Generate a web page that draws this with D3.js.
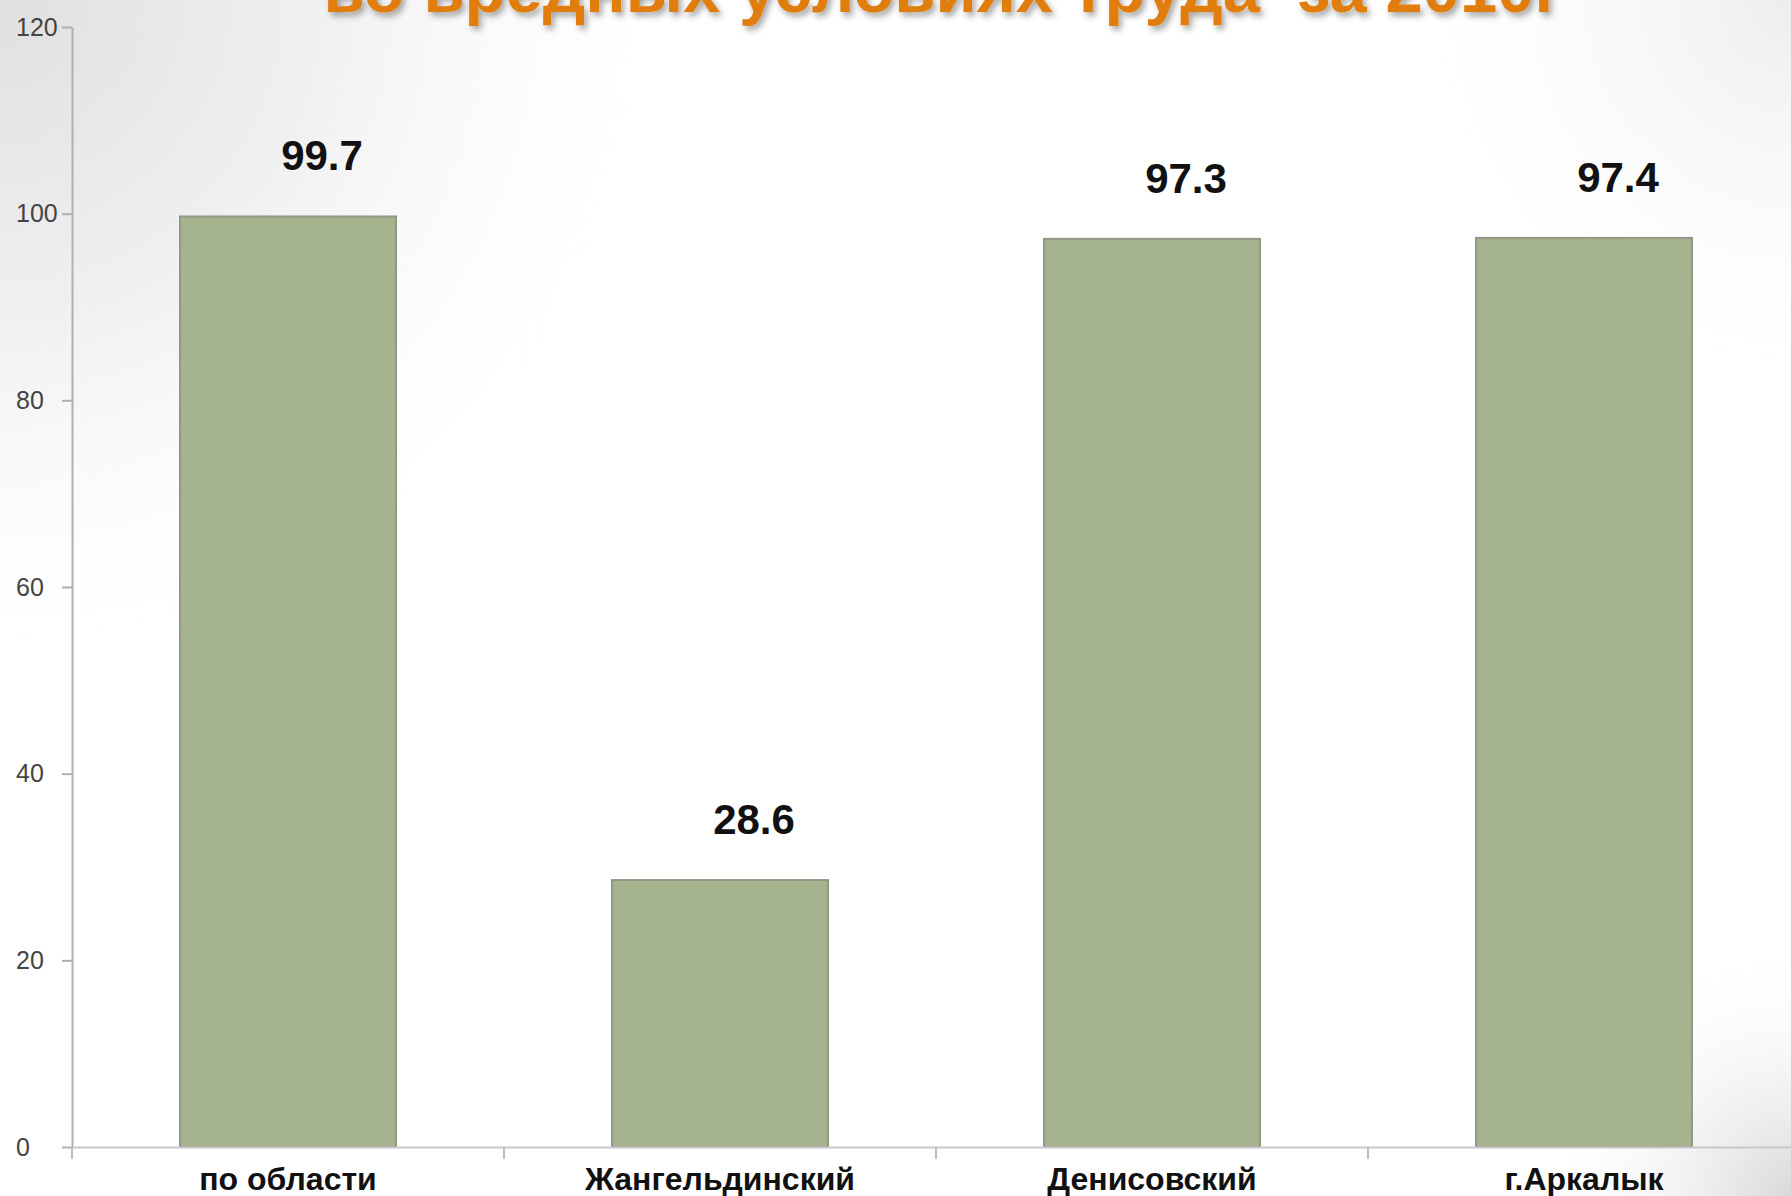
<html><head><meta charset="utf-8">
    <style>
        body {
            margin: 0;
            font-family: "Liberation Sans", Arial, Helvetica, sans-serif;
            background: white;
        }
        svg {
            display: block;
        }
    </style>
</head>

<script src="https://d3js.org/d3.v7.min.js"></script>

<body>
    <svg id="chart"></svg>
</body>

<script>
    // chart data
    let categories = ["по области", "Жангельдинский", "Денисовский", "г.Аркалык"]
    let values = [99.7, 28.6, 97.3, 97.4]
    let yTicks = [0, 20, 40, 60, 80, 100, 120]
    let titleText = "во вредных условиях труда  за 2010г"

    let width = 1791
    let height = 1196
    let margin = { top: 27, left: 72, bottom: 49 }
    let plotRight = 1800 // the last band runs slightly past the edge

    let svg = d3.select('#chart')
        .attr('width', width)
        .attr('height', height)

    let defs = svg.append('defs')

    // slide background: grey corners fading to white
    let g1 = defs.append('radialGradient').attr('id', 'bgTL')
        .attr('gradientUnits', 'userSpaceOnUse')
        .attr('cx', 0).attr('cy', 0).attr('r', 700)
    g1.append('stop').attr('offset', 0).attr('stop-color', '#e0e0e0')
    g1.append('stop').attr('offset', 0.45).attr('stop-color', '#f0f0f0')
    g1.append('stop').attr('offset', 1).attr('stop-color', '#ffffff').attr('stop-opacity', 0)

    let g2 = defs.append('radialGradient').attr('id', 'bgBR')
        .attr('gradientUnits', 'userSpaceOnUse')
        .attr('cx', width).attr('cy', height).attr('r', 260)
    g2.append('stop').attr('offset', 0).attr('stop-color', '#d9d9d9')
    g2.append('stop').attr('offset', 1).attr('stop-color', '#ffffff').attr('stop-opacity', 0)

    let g3 = defs.append('radialGradient').attr('id', 'bgTR')
        .attr('gradientUnits', 'userSpaceOnUse')
        .attr('cx', width).attr('cy', 0).attr('r', 420)
    g3.append('stop').attr('offset', 0).attr('stop-color', '#ededed')
    g3.append('stop').attr('offset', 1).attr('stop-color', '#ffffff').attr('stop-opacity', 0)

    let shadow = defs.append('filter').attr('id', 'titleShadow')
        .attr('x', '-5%').attr('y', '-50%').attr('width', '110%').attr('height', '200%')
    shadow.append('feDropShadow')
        .attr('dx', 3).attr('dy', 4).attr('stdDeviation', 3)
        .attr('flood-color', '#000').attr('flood-opacity', 0.35)

    svg.append('rect').attr('width', width).attr('height', height).attr('fill', '#fff')
    svg.append('rect').attr('width', width).attr('height', height).attr('fill', 'url(#bgTL)')
    svg.append('rect').attr('width', width).attr('height', height).attr('fill', 'url(#bgTR)')
    svg.append('rect').attr('width', width).attr('height', height).attr('fill', 'url(#bgBR)')

    // title (only its lower line shows, cut at the top edge as in the slide)
    svg.append('text')
        .attr('x', 943)
        .attr('y', 12)
        .attr('text-anchor', 'middle')
        .attr('xml:space', 'preserve')
        .style('white-space', 'pre')
        .attr('font-size', 67)
        .attr('font-weight', 'bold')
        .attr('fill', '#e07d10')
        .attr('filter', 'url(#titleShadow)')
        .text(titleText)

    let xScale = d3.scaleBand()
        .domain(categories)
        .range([margin.left, plotRight])
        .padding(0)

    let yScale = d3.scaleLinear()
        .domain([0, 120])
        .range([height - margin.bottom, margin.top])

    let barWidth = xScale.bandwidth() * 0.5

    // y axis
    let axisY = d3.axisLeft(yScale)
        .tickValues(yTicks)
        .tickSize(10)
        .tickSizeOuter(0)
    let gy = svg.append('g')
        .attr('transform', `translate(${margin.left},0)`)
        .call(axisY)
    gy.select('.domain').attr('stroke', '#b0b0b0').attr('stroke-width', 2)
    gy.selectAll('.tick line').attr('stroke', '#b0b0b0').attr('stroke-width', 2)
    gy.selectAll('.tick text')
        .attr('x', -56)
        .attr('text-anchor', 'start')
        .attr('font-size', 25)
        .attr('font-family', '"Liberation Sans", Arial, sans-serif')
        .attr('fill', '#444')

    // bars
    svg.selectAll('.bar')
        .data(values)
        .enter().append('rect')
        .attr('class', 'bar')
        .attr('x', (d, i) => xScale(categories[i]) + (xScale.bandwidth() - barWidth) / 2)
        .attr('y', d => yScale(d))
        .attr('width', barWidth)
        .attr('height', d => yScale(0) - yScale(d))
        .attr('fill', '#a5b48f')
        .attr('stroke', '#8f9985')
        .attr('stroke-width', 2)

    // x axis
    let axisX = d3.axisBottom(xScale)
        .tickSize(0)
        .tickSizeOuter(0)
    let gx = svg.append('g')
        .attr('transform', `translate(0,${yScale(0)})`)
        .call(axisX)
    gx.select('.domain').attr('stroke', '#c8c8c8').attr('stroke-width', 2)
    gx.selectAll('.tick text')
        .attr('y', 43)
        .attr('dy', 0)
        .attr('font-size', 32)
        .attr('font-weight', 'bold')
        .attr('font-family', '"Liberation Sans", Arial, sans-serif')
        .attr('fill', '#111')

    // separators between categories
    gx.selectAll('.sep')
        .data(categories)
        .enter().append('line')
        .attr('class', 'sep')
        .attr('x1', d => xScale(d))
        .attr('x2', d => xScale(d))
        .attr('y1', 0)
        .attr('y2', 12)
        .attr('stroke', '#bdbdbd')
        .attr('stroke-width', 2)

    // value labels
    svg.selectAll('.value')
        .data(values)
        .enter().append('text')
        .attr('class', 'value')
        .attr('x', (d, i) => xScale(categories[i]) + xScale.bandwidth() / 2 + 34)
        .attr('y', d => yScale(d) - 46)
        .attr('text-anchor', 'middle')
        .attr('font-size', 42)
        .attr('font-weight', 'bold')
        .attr('fill', '#111')
        .text(d => d.toFixed(1))
</script>

</html>
